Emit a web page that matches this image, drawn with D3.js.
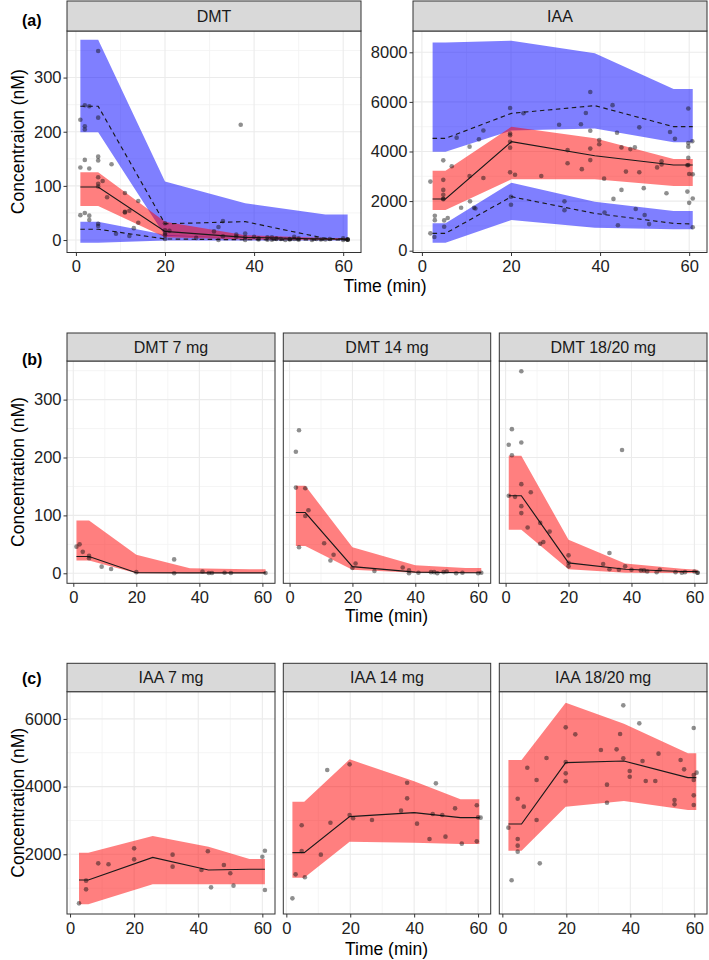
<!DOCTYPE html>
<html><head><meta charset="utf-8">
<script src="https://cdn.jsdelivr.net/npm/d3@7"></script>
<style>
body{margin:0;background:#fff}
svg{display:block}
text{font-family:"Liberation Sans",Arial,Helvetica,sans-serif}
</style>
</head><body>
<svg id="chart" width="709" height="960"></svg>
<script>
// ---------------- DATA ----------------
// Panel (a) DMT — VPC bins and bands
const dmtBinTime = [1, 5, 20, 38, 56, 61];
const dmtP95Lo = [199, 199, 8, 3, 2, 2];
const dmtP95Hi = [370, 370, 108, 68, 47, 47];
const dmtP50Lo = [63, 63, 5, 1, 0, 0];
const dmtP50Hi = [125, 125, 34, 9, 4, 4];
const dmtP05Lo = [-5, -5, -1, -1, -1, -1];
const dmtP05Hi = [34, 34, 10, 3, 1, 1];
const dmtObsP50 = [98, 98, 16, 5, 2, 1.5];
const dmtObsP95 = [247, 247, 30, 34, 3, 2];
const dmtObsP05 = [20, 20, 2, 0.5, 0.3, 0.3];

// Panel (a) IAA
const iaaBinTime = [2.4, 5.3, 20.1, 38.8, 56.5, 60.8];
const iaaP95Lo = [3990, 3990, 4850, 4930, 4370, 4370];
const iaaP95Hi = [8400, 8400, 8470, 7960, 6520, 6520];
const iaaP50Lo = [1640, 1640, 2876, 2876, 2608, 2608];
const iaaP50Hi = [3226, 3226, 5000, 4530, 3700, 3700];
const iaaP05Lo = [323, 323, 1237, 927, 860, 860];
const iaaP05Hi = [1102, 1102, 2742, 1976, 1600, 1600];
const iaaObsP50 = [2083, 2083, 4395, 3830, 3454, 3454];
const iaaObsP95 = [4530, 4530, 5538, 5850, 5000, 5000];
const iaaObsP05 = [700, 700, 2177, 1505, 1102, 1075];

// Panel (b) DMT by dose — median prediction interval + observed median
const dmt7BinTime = [1, 5, 20, 37, 56, 61];
const dmt7Lo = [22, 22, 0, 0, 0, 0];
const dmt7Hi = [91, 91, 32, 8.6, 7, 7];
const dmt7ObsP50 = [29, 29, 1, 0.8, 0.6, 0.6];
const dmt14BinTime = [2, 5, 20, 40, 56, 61];
const dmt14Lo = [47, 47, 6, 1, 0.5, 0.5];
const dmt14Hi = [151, 151, 45, 14, 9, 9];
const dmt14ObsP50 = [105, 105, 11.5, 2, 1, 1];
const dmt20BinTime = [1, 5, 20, 38, 56, 61];
const dmt20Lo = [75, 75, 7, 1, 0.5, 0.5];
const dmt20Hi = [203, 203, 58, 17, 8, 6];
const dmt20ObsP50 = [134, 134, 18, 7, 3, 3];

// Panel (c) IAA by dose
const iaa7BinTime = [2.8, 5.7, 25.8, 43.2, 56, 60.8];
const iaa7Lo = [522, 522, 1113, 1113, 1113, 1113];
const iaa7Hi = [2048, 2048, 2541, 2225, 1861, 1861];
const iaa7ObsP50 = [1241, 1241, 1910, 1536, 1557, 1557];
const iaa14BinTime = [1.9, 5.6, 19.8, 40, 54.5, 60.4];
const iaa14Lo = [1310, 1310, 2373, 2340, 2304, 2304];
const iaa14Hi = [3555, 3555, 4805, 4156, 3624, 3624];
const iaa14ObsP50 = [2048, 2048, 3112, 3230, 3082, 3082];
const iaa20BinTime = [1.9, 6, 19.8, 38, 58, 60.6];
const iaa20Lo = [2107, 2107, 3407, 3575, 3309, 3309];
const iaa20Hi = [4786, 4786, 6480, 5860, 4983, 4983];
const iaa20ObsP50 = [2895, 2895, 4707, 4756, 4264, 4264];

// Observed concentrations (time in min, concentration in nM)
const dmt7Time = [1, 2, 3, 5, 5, 9, 12, 20, 32, 32, 41, 43, 44, 48, 50, 61];
const dmt7Conc = [46, 50, 37, 30, 26, 11.5, 7.5, 2, 24, 0, 3, 0.5, 0.5, 1, 0.5, 0.5];
const dmt14Time = [2, 3, 2, 5, 6, 5, 3, 11, 14, 13, 20, 21, 27, 36, 38, 38, 41, 45, 46, 47, 49, 50, 53, 55, 60, 61];
const dmt14Conc = [210, 247, 148, 147, 109, 99, 45, 52, 32, 22, 9, 17, 4, 10, 5, 0, 1, 2, 2, 0, 2, 3, 0, 1, 0, 1];
const dmt20Time = [5, 2, 1, 2, 5, 37, 1, 3, 5, 8, 5, 5, 7, 11, 14, 11, 12, 20, 20, 20, 31, 33, 33, 36, 38, 40, 43, 44, 45, 48, 49, 54, 56, 57, 60, 61, 61];
const dmt20Conc = [349, 249, 222, 204, 226, 213, 134, 132, 154, 140, 116, 104, 79, 87, 72, 51, 54, 31, 18, 12, 16, 35, 7, 6, 12, 6, 5, 5, 3, 2, 6, 2, 1, 2, 3, 1, 1];
const iaa7Time = [2.8, 5, 5, 8.8, 12, 20, 20, 32, 32, 41, 43, 44, 48, 50, 51, 60, 60.8, 60.8];
const iaa7Conc = [551, 1221, 965, 1733, 1704, 2176, 1851, 1989, 1635, 1536, 2088, 1024, 1684, 1438, 1073, 1929, 2106, 945];
const iaa14Time = [1.9, 2.9, 4.8, 4.8, 5.8, 10.8, 12.8, 13.8, 19.8, 19.8, 20.9, 26.8, 35.9, 37.8, 37.8, 40.9, 44.8, 45.8, 46.8, 48.8, 49.8, 52.8, 54.9, 59.6, 60, 60.8, 59.6];
const iaa14Conc = [699, 1408, 2856, 2097, 1320, 1989, 4490, 2934, 4658, 3161, 3063, 3013, 3289, 4116, 3653, 2905, 2452, 3190, 4096, 3161, 2521, 3358, 2314, 3447, 3092, 3082, 2383];
const iaa20Time = [1.9, 2.9, 4.8, 4.8, 4.8, 4.8, 6.7, 7.8, 10.7, 10.7, 11.7, 13.8, 19.8, 19.8, 19.8, 19.8, 22.8, 30.8, 32.7, 32.7, 35.7, 36.8, 37.8, 37.8, 39.8, 39.8, 42.8, 43.8, 44.8, 47.8, 48.8, 53.8, 53.8, 55.7, 56.8, 59.8, 59.8, 59.8, 59.8, 59.8, 60.7];
const iaa20Conc = [2787, 1231, 3643, 2452, 2255, 2078, 3407, 4559, 4195, 3013, 1733, 4845, 5751, 4727, 4392, 4156, 5544, 5081, 4057, 3525, 5101, 5554, 4835, 6401, 4461, 4293, 5869, 4756, 4165, 4165, 4973, 3604, 3476, 4786, 4510, 5731, 4343, 4195, 3742, 3456, 4412];

const xTicks = [0, 20, 40, 60];
const xMinorTicks = [10, 30, 50];
const dmtYTicks = [0, 100, 200, 300];
const dmtYMinor = [50, 150, 250, 350];
const iaaYTicksA = [0, 2000, 4000, 6000, 8000];
const iaaYMinorA = [1000, 3000, 5000, 7000];
const iaaYTicksC = [2000, 4000, 6000];
const iaaYMinorC = [1000, 3000, 5000];

// ---------------- DRAWING ----------------
const svg = d3.select("#chart");
const RED = "#FF0000", BLUE = "#0000FF";
let clipN = 0;
const zipPts = (t, c) => t.map((v, i) => [v, c[i]]);
const band = (t, lo, hi, color) => ({rows: t.map((v, i) => ({t: v, lo: lo[i], hi: hi[i]})), color});
const line = (t, v, dash) => ({rows: t.map((d, i) => ({t: d, v: v[i]})), dash});

function drawPanel(p) {
  const x = d3.scaleLinear().domain(p.xDomain).range([p.x0, p.x1]);
  const y = d3.scaleLinear().domain(p.yDomain).range([p.yb, p.ys]);
  const g = svg.append("g");
  const id = "clip" + (clipN++);
  svg.append("clipPath").attr("id", id).append("rect")
    .attr("x", p.x0).attr("y", p.ys).attr("width", p.x1 - p.x0).attr("height", p.yb - p.ys);
  g.append("rect").attr("x", p.x0).attr("y", p.ys).attr("width", p.x1 - p.x0).attr("height", p.yb - p.ys).attr("fill", "#fff");
  const grid = g.append("g");
  xMinorTicks.forEach(v => grid.append("line").attr("x1", x(v)).attr("x2", x(v)).attr("y1", p.ys).attr("y2", p.yb).attr("stroke", "#F2F2F2").attr("stroke-width", 0.8));
  p.yMinor.forEach(v => { if (v > p.yDomain[0] && v < p.yDomain[1]) grid.append("line").attr("y1", y(v)).attr("y2", y(v)).attr("x1", p.x0).attr("x2", p.x1).attr("stroke", "#F2F2F2").attr("stroke-width", 0.8); });
  xTicks.forEach(v => grid.append("line").attr("x1", x(v)).attr("x2", x(v)).attr("y1", p.ys).attr("y2", p.yb).attr("stroke", "#EBEBEB").attr("stroke-width", 1.1));
  p.yTicks.forEach(v => grid.append("line").attr("y1", y(v)).attr("y2", y(v)).attr("x1", p.x0).attr("x2", p.x1).attr("stroke", "#EBEBEB").attr("stroke-width", 1.1));

  const plot = g.append("g").attr("clip-path", `url(#${id})`);
  const area = d3.area().x(d => x(d.t)).y0(d => y(d.lo)).y1(d => y(d.hi));
  p.bands.forEach(b => plot.append("path").attr("d", area(b.rows)).attr("fill", b.color).attr("fill-opacity", 0.5));
  const ln = d3.line().x(d => x(d.t)).y(d => y(d.v));
  p.lines.forEach(l => plot.append("path").attr("d", ln(l.rows)).attr("fill", "none").attr("stroke", "#1a1a1a")
    .attr("stroke-width", 1.15).attr("stroke-dasharray", l.dash ? "4.5,3.5" : null));
  plot.selectAll("circle.pt").data(p.points).enter().append("circle").attr("class", "pt")
    .attr("cx", d => x(d[0])).attr("cy", d => y(d[1])).attr("r", 2.3)
    .attr("fill", "#111").attr("fill-opacity", 0.47);

  g.append("rect").attr("x", p.x0).attr("y", p.ys).attr("width", p.x1 - p.x0).attr("height", p.yb - p.ys)
    .attr("fill", "none").attr("stroke", "#333").attr("stroke-width", 1);
  // strip
  g.append("rect").attr("x", p.x0).attr("y", p.stripTop).attr("width", p.x1 - p.x0).attr("height", p.ys - p.stripTop)
    .attr("fill", "#D9D9D9").attr("stroke", "#333").attr("stroke-width", 1);
  g.append("text").attr("x", (p.x0 + p.x1) / 2).attr("y", (p.stripTop + p.ys) / 2).attr("dy", "0.36em")
    .attr("text-anchor", "middle").attr("font-size", 16).attr("fill", "#1A1A1A").text(p.title);

  const styleAxis = sel => {
    sel.select(".domain").remove();
    sel.attr("font-size", 16.5).attr("font-family", '"Liberation Sans",Arial,sans-serif');
    sel.selectAll(".tick line").attr("stroke", "#333");
    sel.selectAll(".tick text").attr("fill", "#222");
  };
  g.append("g").attr("transform", `translate(0,${p.yb})`)
    .call(d3.axisBottom(x).tickValues(xTicks).tickSize(3.5).tickPadding(4.5).tickFormat(d3.format("d")))
    .call(styleAxis);
  if (p.showY) {
    g.append("g").attr("transform", `translate(${p.x0},0)`)
      .call(d3.axisLeft(y).tickValues(p.yTicks).tickSize(3.5).tickPadding(2).tickFormat(d3.format("d")))
      .call(styleAxis);
  }
}

function label(txt, x, y) {
  svg.append("text").attr("x", x).attr("y", y).attr("dy", "0.36em").attr("font-size", 16).attr("font-weight", "bold").attr("fill", "#000").text(txt);
}
function yTitle(txt, cy) {
  svg.append("text").attr("transform", `translate(18,${cy}) rotate(-90)`).attr("dy", "0.36em")
    .attr("text-anchor", "middle").attr("font-size", 17.5).attr("fill", "#000").text(txt);
}
function xTitle(y, cx) {
  svg.append("text").attr("x", cx).attr("y", y).attr("text-anchor", "middle").attr("font-size", 17.5).attr("fill", "#000").text("Time (min)");
}

// Row (a)
const rowA = {stripTop: 1, ys: 31, yb: 252.5};
drawPanel(Object.assign({}, rowA, {
  x0: 67, x1: 361, xDomain: [-2, 64], yDomain: [-23, 386], yTicks: dmtYTicks, yMinor: dmtYMinor, showY: true, title: "DMT",
  bands: [band(dmtBinTime, dmtP95Lo, dmtP95Hi, BLUE), band(dmtBinTime, dmtP05Lo, dmtP05Hi, BLUE), band(dmtBinTime, dmtP50Lo, dmtP50Hi, RED)],
  lines: [line(dmtBinTime, dmtObsP50, false), line(dmtBinTime, dmtObsP95, true), line(dmtBinTime, dmtObsP05, true)],
  points: [].concat(zipPts(dmt7Time, dmt7Conc), zipPts(dmt14Time, dmt14Conc), zipPts(dmt20Time, dmt20Conc))
}));
drawPanel(Object.assign({}, rowA, {
  x0: 413, x1: 707, xDomain: [-2, 64], yDomain: [-73, 8859], yTicks: iaaYTicksA, yMinor: iaaYMinorA, showY: true, title: "IAA",
  bands: [band(iaaBinTime, iaaP95Lo, iaaP95Hi, BLUE), band(iaaBinTime, iaaP05Lo, iaaP05Hi, BLUE), band(iaaBinTime, iaaP50Lo, iaaP50Hi, RED)],
  lines: [line(iaaBinTime, iaaObsP50, false), line(iaaBinTime, iaaObsP95, true), line(iaaBinTime, iaaObsP05, true)],
  points: [].concat(zipPts(iaa7Time, iaa7Conc), zipPts(iaa14Time, iaa14Conc), zipPts(iaa20Time, iaa20Conc))
}));
label("(a)", 22, 20);
yTitle("Concentraion (nM)", 141.75);
xTitle(291.5, 385);

// Row (b)
const cols = [[67, 275], [283.3, 490.7], [499.3, 707]];
const rowB = {stripTop: 333, ys: 361, yb: 583.3, xDomain: [-2, 64], yDomain: [-17.3, 366.7], yTicks: dmtYTicks, yMinor: dmtYMinor};
const bSpecs = [
  {title: "DMT 7 mg", t: dmt7BinTime, lo: dmt7Lo, hi: dmt7Hi, med: dmt7ObsP50, pt: dmt7Time, pc: dmt7Conc},
  {title: "DMT 14 mg", t: dmt14BinTime, lo: dmt14Lo, hi: dmt14Hi, med: dmt14ObsP50, pt: dmt14Time, pc: dmt14Conc},
  {title: "DMT 18/20 mg", t: dmt20BinTime, lo: dmt20Lo, hi: dmt20Hi, med: dmt20ObsP50, pt: dmt20Time, pc: dmt20Conc}
];
bSpecs.forEach((s, i) => drawPanel(Object.assign({}, rowB, {
  x0: cols[i][0], x1: cols[i][1], showY: i === 0, title: s.title,
  bands: [band(s.t, s.lo, s.hi, RED)], lines: [line(s.t, s.med, false)], points: zipPts(s.pt, s.pc)
})));
label("(b)", 22, 359);
yTitle("Concentration (nM)", 472);
xTitle(622, 386.5);

// Row (c)
const rowC = {stripTop: 663.3, ys: 691.7, yb: 914, xDomain: [-0.95, 63.95], yDomain: [236, 6804], yTicks: iaaYTicksC, yMinor: iaaYMinorC};
const cSpecs = [
  {title: "IAA 7 mg", t: iaa7BinTime, lo: iaa7Lo, hi: iaa7Hi, med: iaa7ObsP50, pt: iaa7Time, pc: iaa7Conc},
  {title: "IAA 14 mg", t: iaa14BinTime, lo: iaa14Lo, hi: iaa14Hi, med: iaa14ObsP50, pt: iaa14Time, pc: iaa14Conc},
  {title: "IAA 18/20 mg", t: iaa20BinTime, lo: iaa20Lo, hi: iaa20Hi, med: iaa20ObsP50, pt: iaa20Time, pc: iaa20Conc}
];
cSpecs.forEach((s, i) => drawPanel(Object.assign({}, rowC, {
  x0: cols[i][0], x1: cols[i][1], showY: i === 0, title: s.title,
  bands: [band(s.t, s.lo, s.hi, RED)], lines: [line(s.t, s.med, false)], points: zipPts(s.pt, s.pc)
})));
label("(c)", 22, 678);
yTitle("Concentration (nM)", 802.85);
xTitle(954.5, 386.5);
</script>
</body></html>
